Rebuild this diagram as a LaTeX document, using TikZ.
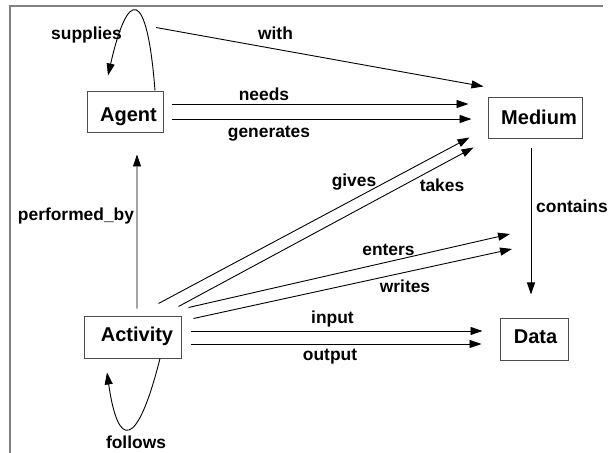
\documentclass[tikz,border=0pt]{standalone}
\usepackage{fontspec}
\setmainfont{Liberation Sans}
\usetikzlibrary{arrows.meta}
\begin{document}
\begin{tikzpicture}[x=1bp,y=-1bp,
  entity/.style={draw=black!70, line width=1bp, fill=white, inner sep=0pt,
    text depth=0bp, font=\fontsize{20bp}{24bp}\selectfont\bfseries},
  rel/.style={draw=black, line width=0.9bp, -{Triangle[length=12bp,width=8bp]}},
  lbl/.style={font=\fontsize{17.4bp}{20bp}\selectfont\bfseries, inner sep=0pt, anchor=base},
]
\useasboundingbox (0,0) rectangle (610,453);
% frame
\draw[black!50, line width=1.3bp] (10,453) -- (10,6) -- (603,6);

% entities
\node[entity, minimum width=76bp, minimum height=41bp, text height=18bp] (agent) at (125,112.5) {\hspace*{7bp}Agent};
\node[entity, minimum width=94bp, minimum height=41bp, text height=13bp] (medium) at (535,118.5) {\hspace*{8bp}Medium};
\node[entity, minimum width=97bp, minimum height=42bp, text height=9.4bp] (activity) at (132.5,337) {\hspace*{9bp}Activity};
\node[entity, minimum width=68bp, minimum height=42bp, text height=8.6bp] (data) at (534,339) {\hspace*{3bp}Data};

% free arrow ends
\coordinate (entersEnd) at (510,234);
\coordinate (writesEnd) at (512,249);

% relations
\draw[rel] ([shift={(30,-1)}]agent.north) .. controls +(-8,-103) and +(20,-88) .. ([shift={(-17,-16)}]agent.north);
\draw[rel] ([shift={(31,-64)}]agent.north) -- ([shift={(-4,-11)}]medium.north west);
\draw[rel] ([shift={(8,-8.5)}]agent.east) -- ([shift={(-19,-14.5)}]medium.west);
\draw[rel] ([shift={(8,6.5)}]agent.east) -- ([shift={(-16,0.5)}]medium.west);
\draw[rel] ([shift={(-23,-12)}]activity.north east) -- ([shift={(-18,-2)}]medium.south west);
\draw[rel] ([shift={(-3,-9)}]activity.north east) -- ([shift={(-14,8)}]medium.south west);
\draw[rel] ([shift={(7,-8)}]activity.north east) -- (entersEnd);
\draw[rel] ([shift={(12,3)}]activity.north east) -- (writesEnd);
\draw[rel] ([shift={(9,-6)}]activity.east) -- ([shift={(-17,-8)}]data.west);
\draw[rel] ([shift={(9,7)}]activity.east) -- ([shift={(-18,5)}]data.west);
\draw[rel] ([shift={(4.5,-7)}]activity.north) -- ([shift={(12,21)}]agent.south);
\draw[rel] ([shift={(-4,9)}]medium.south) -- ([shift={(-3,-23)}]data.north);
\draw[rel] ([shift={(27.5,0)}]activity.south) .. controls +(-23,91) and +(11,77) .. ([shift={(-25.5,14)}]activity.south);

% relation labels
\node[lbl] (lsupplies) at (86.5,40) {supplies};
\node[lbl] (lwith) at (275.5,40) {with};
\node[lbl] (lneeds) at (264,101) {needs};
\node[lbl] (lgenerates) at (269,137.5) {generates};
\node[lbl] (lgives) at (354,187) {gives};
\node[lbl] (ltakes) at (442,191.5) {takes};
\node[lbl] (lenters) at (388.5,256) {enters};
\node[lbl] (lwrites) at (405,293) {writes};
\node[lbl] (linput) at (332.5,323) {input};
\node[lbl] (loutput) at (330,360) {output};
\node[lbl] (lperformed) at (76,221) {performed\_by};
\node[lbl] (lcontains) at (572,213) {contains};
\node[lbl] (lfollows) at (136,448) {follows};
\end{tikzpicture}
\end{document}
